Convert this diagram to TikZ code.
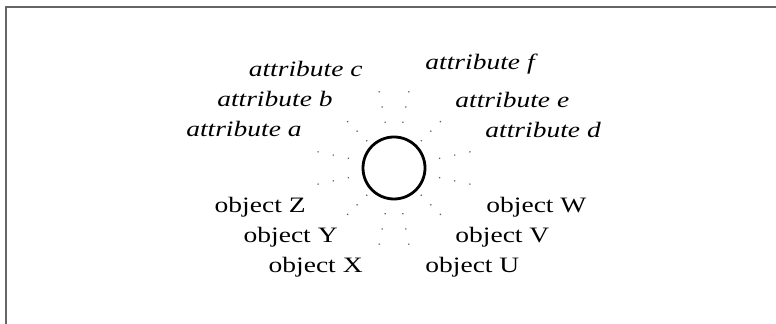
\documentclass[tikz,border=0pt]{standalone}
\usepackage{fontspec}
% the labels of the reference are set wide
\setmainfont[FakeStretch=1.25]{Liberation Serif}
\usetikzlibrary{calc}
\tikzset{
  attr/.style={font=\fontsize{11}{13}\selectfont\itshape, inner sep=0pt},
  obj/.style={font=\fontsize{11}{13}\selectfont, inner sep=0pt},
  ray/.style={draw=black!65, line width=0.6pt, dash pattern=on 0.6pt off #1},
}

\begin{document}
\begin{tikzpicture}[x=0.5pt, y=0.5pt]
  \useasboundingbox (0,0) rectangle (776,324);
  % frame, cut off at right and bottom
  \draw[black!60, line width=1pt] (6,0) -- (6,317) -- (776,317);

  % the circle
  \node[draw, circle, line width=1.4pt, minimum size=31pt, inner sep=0pt] (c) at (394,156) {};

  % dotted rays round the circle
  \foreach \a in {12,79,101,168,-12,-79,-101,-168}
    \draw[ray=7.15pt] ($(c.center)+(\a:46)$) -- ($(c.center)+(\a:78.5)$);
  \foreach \a in {45,135,-45,-135}
    \draw[ray=6.15pt] ($(c.center)+(\a:38)$) -- ($(c.center)+(\a:66.5)$);

  % attributes
  \node[attr, anchor=base east] (attra) at (302,187) {attribute a};
  \node[attr, anchor=base east] (attrb) at (333,217) {attribute b};
  \node[attr, anchor=base east] (attrc) at (363,247) {attribute c};
  \node[attr, anchor=base west] (attrd) at (485,186) {attribute d};
  \node[attr, anchor=base west] (attre) at (455,216) {attribute e};
  \node[attr, anchor=base west] (attrf) at (425,254) {attribute f};

  % objects
  \node[obj, anchor=base east] (objz) at (306,111) {object Z};
  \node[obj, anchor=base east] (objy) at (338,81) {object Y};
  \node[obj, anchor=base east] (objx) at (363,51) {object X};
  \node[obj, anchor=base west] (objw) at (486,111) {object W};
  \node[obj, anchor=base west] (objv) at (455,81) {object V};
  \node[obj, anchor=base west] (obju) at (425,51) {object U};
\end{tikzpicture}
\end{document}
